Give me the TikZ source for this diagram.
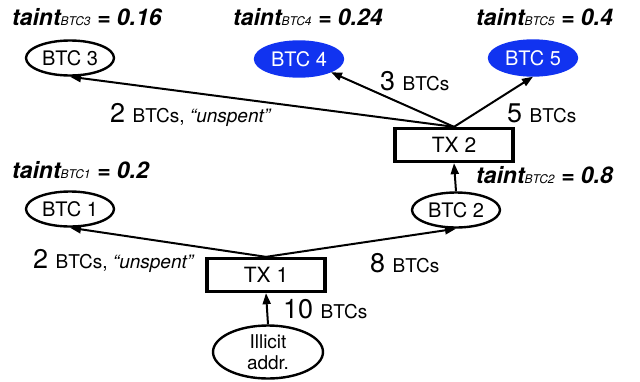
\documentclass[tikz,border=0pt]{standalone}
\usepackage{fontspec}
\setmainfont{TeX Gyre Heros}
\usetikzlibrary{arrows.meta,shapes.geometric}
\definecolor{btcblue}{RGB}{17,51,240}
\newcommand{\taintlab}[2]{{\fontsize{23}{25}\selectfont\bfseries\itshape taint}{\fontsize{12}{14}\selectfont\itshape #1}{\fontsize{23}{25}\selectfont\bfseries\itshape\ = #2}}
\newcommand{\amount}[1]{{\fontsize{27}{29}\selectfont #1\ }{\fontsize{19}{21}\selectfont BTCs}}
\newcommand{\unspent}{{\fontsize{19}{21}\selectfont, \textit{``unspent''}}}
\begin{document}
\begin{tikzpicture}[x=1pt,y=-1pt,
  coin/.style={ellipse,draw,line width=2.4pt,minimum width=88pt,minimum height=35pt,inner sep=0pt,font=\fontsize{20}{22}\selectfont},
  bluecoin/.style={coin,fill=btcblue,draw=btcblue,text=white},
  txbox/.style={rectangle,draw,line width=3.3pt,minimum width=118pt,minimum height=33pt,inner sep=0pt,font=\fontsize{21}{23}\selectfont},
  flow/.style={line width=2pt,-{Triangle[length=11pt,width=8pt]}},
  lab/.style={anchor=base west,inner sep=0pt}]
\useasboundingbox (0,0) rectangle (640,381);
\node[coin] (b3) at (70,58) {BTC 3};
\node[bluecoin] (b4) at (299,59) {BTC 4};
\node[bluecoin] (b5) at (533,58) {BTC 5};
\node[txbox] (tx2) at (454,145) {TX 2};
\node[coin] (b2) at (456,210) {BTC 2};
\node[coin] (b1) at (70,209) {BTC 1};
\node[txbox] (tx1) at (266,275) {TX 1};
\node[coin,minimum width=110pt,minimum height=53pt,align=center,font=\fontsize{19}{21}\selectfont] (ill) at (268,352) {Illicit\\addr.};
\draw[flow] (tx2.north) -- (b3.south);
\draw[flow] (tx2.north) -- (b4.south east);
\draw[flow] (tx2.north) -- (b5.south);
\draw[flow] (b2.north) -- (tx2.south);
\draw[flow] (tx1.north) -- (b1.south);
\draw[flow] (tx1.north) -- (b2.south);
\draw[flow] (ill.north) -- (tx1.south);
\node[lab] (t3) at (12,25) {\taintlab{BTC3}{0.16}};
\node[lab] (t4) at (233,25) {\taintlab{BTC4}{0.24}};
\node[lab] (t5) at (476,25) {\taintlab{BTC5}{0.4}};
\node[lab] (t1) at (12,178) {\taintlab{BTC1}{0.2}};
\node[lab] (t2) at (476,183) {\taintlab{BTC2}{0.8}};
\node[lab] (l3) at (110,122) {\amount{2}\unspent};
\node[lab] (l4) at (380,90) {\amount{3}};
\node[lab] (l5) at (507,122) {\amount{5}};
\node[lab] (l1) at (33,268) {\amount{2}\unspent};
\node[lab] (l2) at (370,272) {\amount{8}};
\node[lab] (l0) at (283,318) {\amount{10}};
\end{tikzpicture}
\end{document}
